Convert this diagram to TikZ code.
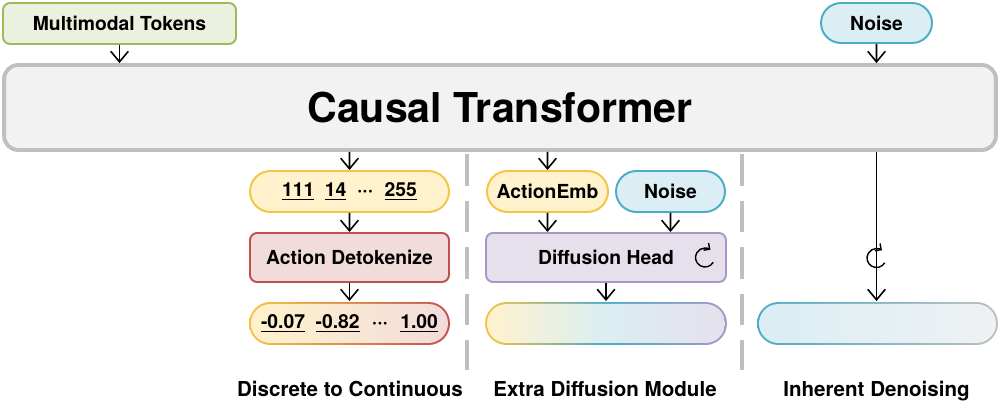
\documentclass[tikz,border=0pt]{standalone}
\usepackage{fontspec}
\setmainfont{TeX Gyre Heros}
\usepackage{tikz}
\usetikzlibrary{arrows.meta}
\usetikzlibrary{shapes.misc}
\usetikzlibrary{calc}
\definecolor{greenfill}{HTML}{EBF1DE}
\definecolor{greenline}{HTML}{9BBB59}
\definecolor{grayfill}{HTML}{F2F2F2}
\definecolor{grayline}{HTML}{BFBFBF}
\definecolor{bluefill}{HTML}{DAEEF3}
\definecolor{blueline}{HTML}{4BACC6}
\definecolor{yellowfill}{HTML}{FFF2CC}
\definecolor{yellowline}{HTML}{F6C343}
\definecolor{redfill}{HTML}{F2DCDB}
\definecolor{redline}{HTML}{C0504D}
\definecolor{purplefill}{HTML}{E6E0EC}
\definecolor{purpleline}{HTML}{A898C8}
\definecolor{palefill}{HTML}{EFF1F4}
\tikzset{
	box/.style={draw, line width=1.1pt, inner sep=0pt, font=\bfseries\fontsize{11}{13}\selectfont},
	rbox/.style={box, rounded corners=4pt},
	pill/.style={box, rounded rectangle},
	edge/.style={-{Straight Barb[length=6pt,width=10pt]}, line width=0.9pt}
}
\tikzset{
	sepline/.style={color=grayline, line width=1.8pt, dash pattern=on 18pt off 8.5pt},
	caption/.style={anchor=base, font=\bfseries\fontsize{11.7}{14}\selectfont},
	loopline/.style={-{Straight Barb[length=2.5pt,width=5pt]}, line width=0.8pt}
}

\begin{document}
\begin{tikzpicture}[x=0.02cm, y=-0.02cm]
\useasboundingbox (0,0) rectangle (1000,404);

% top row
\node[rbox, draw=greenline, fill=greenfill, minimum width=4.66cm, minimum height=0.82cm] (mmt) at (119.5,23.5) {Multimodal Tokens};
\node[pill, draw=blueline, fill=bluefill, minimum width=2.22cm, minimum height=0.80cm] (noise) at (876.5,23) {Noise};
\node[rbox, draw=grayline, fill=grayfill, line width=2.2pt, rounded corners=8pt, minimum width=19.84cm, minimum height=1.70cm, font=\bfseries\fontsize{23.4}{28}\selectfont] (ct) at (500,107.5) {Causal Transformer};

% separators
\coordinate (sepA) at (467,154);
\coordinate (sepB) at (742,154);
\draw[sepline] (sepA) -- ++(0,216);
\draw[sepline] (sepB) -- ++(0,216);

% discrete to continuous
\node[pill, draw=yellowline, fill=yellowfill, minimum width=3.98cm, minimum height=0.82cm] (tok) at (349.5,191.5) {\underline{111}\hspace{6pt}\underline{14}\hspace{6pt}···\hspace{6.5pt}\underline{255}};
\node[rbox, draw=redline, fill=redfill, minimum width=3.98cm, minimum height=0.98cm] (detok) at (349.5,257.5) {Action Detokenize};
\node[pill, draw=none, left color=yellowline, right color=redline, minimum width=4.02cm, minimum height=0.86cm] (out1) at (349.5,323.5) {};
\node[pill, draw=none, left color=yellowfill, right color=redfill, minimum width=3.94cm, minimum height=0.78cm] (out1in) at (out1) {\underline{-0.07}\hspace{6pt}\underline{-0.82}\hspace{7pt}···\hspace{7pt}\underline{1.00}};

% extra diffusion module
\node[pill, draw=yellowline, fill=yellowfill, minimum width=2.42cm, minimum height=0.82cm] (aemb) at (547.5,191.5) {ActionEmb};
\node[pill, draw=blueline, fill=bluefill, minimum width=2.18cm, minimum height=0.82cm] (noise2) at (670.5,191.5) {Noise};
\node[rbox, draw=purpleline, fill=purplefill, minimum width=4.8cm, minimum height=0.98cm] (dhead) at (606,257.5) {Diffusion Head};
\node[pill, draw=none, left color=yellowline, right color=purpleline, middle color=blueline, minimum width=4.84cm, minimum height=0.86cm] (out2) at (606,323.5) {};
\node[pill, draw=none, left color=yellowfill, right color=purplefill, middle color=bluefill, minimum width=4.76cm, minimum height=0.78cm] (out2in) at (out2) {};

% inherent denoising
\node[pill, draw=none, left color=blueline, right color=grayline, minimum width=4.82cm, minimum height=0.86cm] (out3) at (877.5,323.5) {};
\node[pill, draw=none, left color=bluefill, right color=palefill, minimum width=4.74cm, minimum height=0.78cm] (out3in) at (out3) {};

% captions
\node[caption] (cap1) at (350,397) {Discrete to Continuous};
\node[caption] (cap2) at (605,397) {Extra Diffusion Module};
\node[caption] (cap3) at (876.5,397) {Inherent Denoising};

\draw[edge] (mmt) -- (mmt |- ct.north);
\draw[edge] (noise) -- (noise |- ct.north);
\draw[edge] (tok |- ct.south) -- (tok);
\draw[edge] (tok) -- (detok);
\draw[edge] (detok) -- (out1);
\draw[edge] (aemb |- ct.south) -- (aemb);
\draw[edge] (aemb) -- (aemb |- dhead.north);
\draw[edge] (noise2) -- (noise2 |- dhead.north);
\draw[edge] (dhead) -- (out2);
\draw[edge] (noise |- ct.south) -- (noise |- out3.north);

% loop marks
\coordinate (loop1) at (705,257.5);
\coordinate (loop2) at (876.5,258);
\draw[loopline] ($(loop1)+(30:9.5)$) arc[start angle=30, end angle=305, radius=9.5];
\draw[loopline] ($(loop2)+(30:9.5)$) arc[start angle=30, end angle=305, radius=9.5];
\end{tikzpicture}
\end{document}
